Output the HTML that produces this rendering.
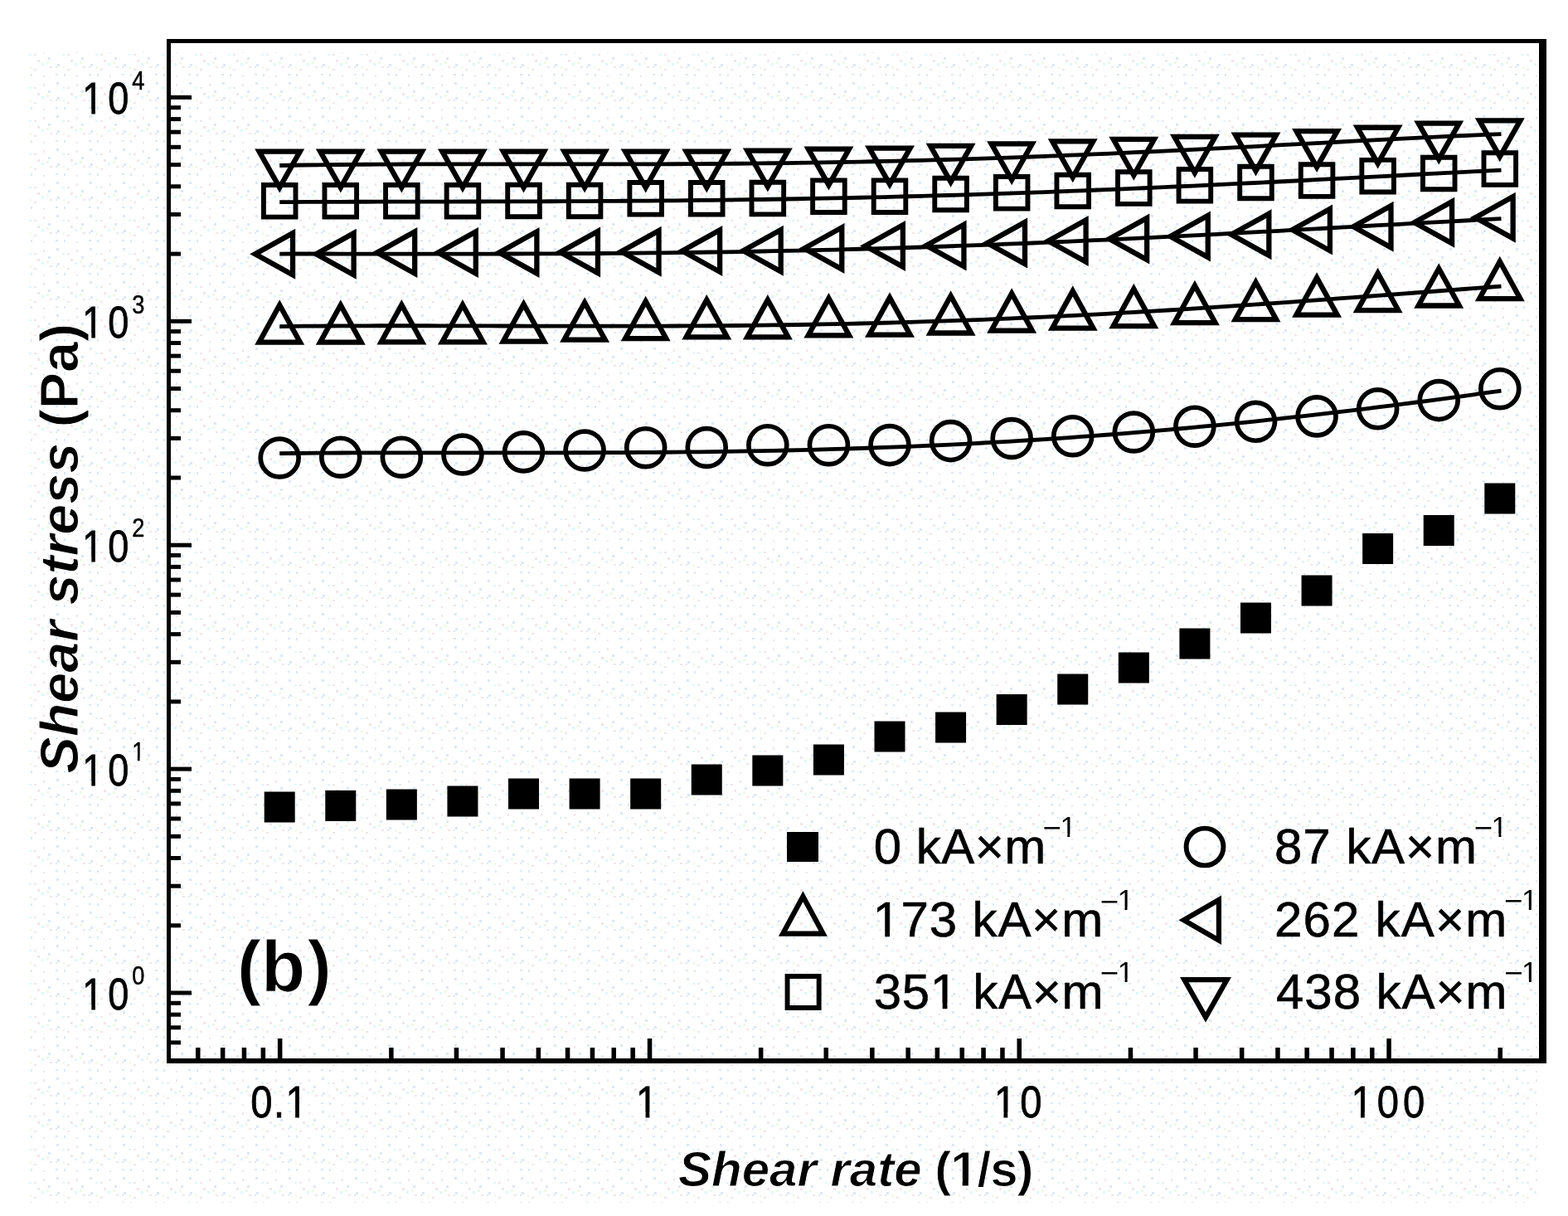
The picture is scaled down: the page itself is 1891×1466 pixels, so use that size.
<!DOCTYPE html>
<html><head><meta charset="utf-8"><title>Shear stress vs shear rate</title>
<style>html,body{margin:0;padding:0;background:#fff;overflow:hidden;} svg{display:block;}</style></head>
<body><svg width="1891" height="1466" viewBox="0 0 1891 1466">
<rect width="1891" height="1466" fill="#fff"/>
<defs><pattern id="dots" x="0" y="0" width="40" height="40" patternUnits="userSpaceOnUse"><rect x="1" y="3" width="3" height="2" fill="#f1e6e8"/><rect x="20" y="0" width="3" height="2" fill="#f1e6e8"/><rect x="27" y="0" width="2" height="2" fill="#dde8f4"/><rect x="36" y="0" width="2" height="3" fill="#eef9e6"/><rect x="12" y="11" width="2" height="2" fill="#f1e6e8"/><rect x="27" y="9" width="3" height="2" fill="#dde8f4"/><rect x="37" y="9" width="2" height="3" fill="#dde8f4"/><rect x="12" y="21" width="2" height="3" fill="#f1e6e8"/><rect x="28" y="19" width="3" height="3" fill="#dde8f4"/><rect x="1" y="25" width="3" height="2" fill="#f1e6e8"/><rect x="18" y="29" width="3" height="3" fill="#dde8f4"/><rect x="35" y="25" width="3" height="2" fill="#def7fb"/><rect x="5" y="32" width="3" height="3" fill="#f1e6e8"/><rect x="10" y="36" width="3" height="3" fill="#def7fb"/><rect x="16" y="34" width="3" height="3" fill="#eef9e6"/><rect x="29" y="37" width="3" height="3" fill="#dde8f4"/></pattern></defs>
<rect x="34" y="63" width="1822" height="1387" fill="url(#dots)"/>
<g fill="#000">
<rect x="201" y="47" width="5" height="1235"/>
<rect x="201" y="47" width="1664" height="5"/>
<rect x="1856" y="47" width="9" height="1235"/>
<rect x="201" y="1276" width="1664" height="6"/>
<rect x="206" y="1194.5" width="25" height="5"/>
<rect x="206" y="924.6" width="25" height="5"/>
<rect x="206" y="654.7" width="25" height="5"/>
<rect x="206" y="384.8" width="25" height="5"/>
<rect x="206" y="114.9" width="25" height="5"/>
<rect x="206" y="1254.4" width="12" height="5"/>
<rect x="206" y="1236.3" width="12" height="5"/>
<rect x="206" y="1220.7" width="12" height="5"/>
<rect x="206" y="1206.8" width="12" height="5"/>
<rect x="206" y="1113.3" width="12" height="5"/>
<rect x="206" y="1065.7" width="12" height="5"/>
<rect x="206" y="1032.0" width="12" height="5"/>
<rect x="206" y="1005.8" width="12" height="5"/>
<rect x="206" y="984.5" width="12" height="5"/>
<rect x="206" y="966.4" width="12" height="5"/>
<rect x="206" y="950.8" width="12" height="5"/>
<rect x="206" y="936.9" width="12" height="5"/>
<rect x="206" y="843.4" width="12" height="5"/>
<rect x="206" y="795.8" width="12" height="5"/>
<rect x="206" y="762.1" width="12" height="5"/>
<rect x="206" y="735.9" width="12" height="5"/>
<rect x="206" y="714.6" width="12" height="5"/>
<rect x="206" y="696.5" width="12" height="5"/>
<rect x="206" y="680.9" width="12" height="5"/>
<rect x="206" y="667.0" width="12" height="5"/>
<rect x="206" y="573.5" width="12" height="5"/>
<rect x="206" y="525.9" width="12" height="5"/>
<rect x="206" y="492.2" width="12" height="5"/>
<rect x="206" y="466.0" width="12" height="5"/>
<rect x="206" y="444.7" width="12" height="5"/>
<rect x="206" y="426.6" width="12" height="5"/>
<rect x="206" y="411.0" width="12" height="5"/>
<rect x="206" y="397.1" width="12" height="5"/>
<rect x="206" y="303.6" width="12" height="5"/>
<rect x="206" y="256.0" width="12" height="5"/>
<rect x="206" y="222.3" width="12" height="5"/>
<rect x="206" y="196.1" width="12" height="5"/>
<rect x="206" y="174.8" width="12" height="5"/>
<rect x="206" y="156.7" width="12" height="5"/>
<rect x="206" y="141.1" width="12" height="5"/>
<rect x="206" y="127.2" width="12" height="5"/>
<rect x="334.9" y="1252" width="5.5" height="24"/>
<rect x="780.8" y="1252" width="5.5" height="24"/>
<rect x="1226.5" y="1252" width="5.5" height="24"/>
<rect x="1672.3" y="1252" width="5.5" height="24"/>
<rect x="236.0" y="1263" width="5.5" height="13"/>
<rect x="265.9" y="1263" width="5.5" height="13"/>
<rect x="291.7" y="1263" width="5.5" height="13"/>
<rect x="314.6" y="1263" width="5.5" height="13"/>
<rect x="469.1" y="1263" width="5.5" height="13"/>
<rect x="547.7" y="1263" width="5.5" height="13"/>
<rect x="603.3" y="1263" width="5.5" height="13"/>
<rect x="646.6" y="1263" width="5.5" height="13"/>
<rect x="681.8" y="1263" width="5.5" height="13"/>
<rect x="711.7" y="1263" width="5.5" height="13"/>
<rect x="737.5" y="1263" width="5.5" height="13"/>
<rect x="760.4" y="1263" width="5.5" height="13"/>
<rect x="914.9" y="1263" width="5.5" height="13"/>
<rect x="993.5" y="1263" width="5.5" height="13"/>
<rect x="1049.1" y="1263" width="5.5" height="13"/>
<rect x="1092.4" y="1263" width="5.5" height="13"/>
<rect x="1127.6" y="1263" width="5.5" height="13"/>
<rect x="1157.5" y="1263" width="5.5" height="13"/>
<rect x="1183.3" y="1263" width="5.5" height="13"/>
<rect x="1206.2" y="1263" width="5.5" height="13"/>
<rect x="1360.7" y="1263" width="5.5" height="13"/>
<rect x="1439.3" y="1263" width="5.5" height="13"/>
<rect x="1494.9" y="1263" width="5.5" height="13"/>
<rect x="1538.2" y="1263" width="5.5" height="13"/>
<rect x="1573.4" y="1263" width="5.5" height="13"/>
<rect x="1603.3" y="1263" width="5.5" height="13"/>
<rect x="1629.1" y="1263" width="5.5" height="13"/>
<rect x="1652.0" y="1263" width="5.5" height="13"/>
<rect x="1806.5" y="1263" width="5.5" height="13"/>
</g>
<path d="M337.2,546.65 L352.1,546.48 L367.0,546.34 L381.8,546.21 L396.7,546.11 L411.6,546.02 L426.5,545.95 L441.4,545.89 L456.3,545.85 L471.1,545.82 L486.0,545.80 L500.9,545.79 L515.8,545.78 L530.7,545.78 L545.5,545.79 L560.4,545.79 L575.3,545.80 L590.2,545.81 L605.1,545.82 L620.0,545.82 L634.8,545.82 L649.7,545.82 L664.6,545.81 L679.5,545.79 L694.4,545.77 L709.2,545.73 L724.1,545.68 L739.0,545.63 L753.9,545.55 L768.8,545.47 L783.7,545.37 L798.5,545.25 L813.4,545.12 L828.3,544.97 L843.2,544.80 L858.1,544.61 L872.9,544.40 L887.8,544.17 L902.7,543.91 L917.6,543.64 L932.5,543.33 L947.4,543.01 L962.2,542.66 L977.1,542.28 L992.0,541.88 L1006.9,541.45 L1021.8,541.00 L1036.6,540.51 L1051.5,540.00 L1066.4,539.46 L1081.3,538.88 L1096.2,538.28 L1111.1,537.65 L1125.9,536.98 L1140.8,536.29 L1155.7,535.56 L1170.6,534.80 L1185.5,534.00 L1200.3,533.18 L1215.2,532.32 L1230.1,531.43 L1245.0,530.50 L1259.9,529.54 L1274.8,528.55 L1289.6,527.52 L1304.5,526.46 L1319.4,525.37 L1334.3,524.24 L1349.2,523.08 L1364.0,521.88 L1378.9,520.65 L1393.8,519.38 L1408.7,518.08 L1423.6,516.74 L1438.5,515.38 L1453.3,513.97 L1468.2,512.54 L1483.1,511.07 L1498.0,509.57 L1512.9,508.03 L1527.7,506.47 L1542.6,504.87 L1557.5,503.23 L1572.4,501.57 L1587.3,499.88 L1602.2,498.15 L1617.0,496.39 L1631.9,494.61 L1646.8,492.79 L1661.7,490.95 L1676.6,489.08 L1691.4,487.18 L1706.3,485.25 L1721.2,483.29 L1736.1,481.31 L1751.0,479.31 L1765.9,477.28 L1780.7,475.22 L1795.6,473.15 L1810.5,471.05" fill="none" stroke="#000" stroke-width="4.8"/>
<path d="M337.2,393.55 L352.1,393.37 L367.0,393.22 L381.8,393.10 L396.7,393.00 L411.6,392.91 L426.5,392.85 L441.4,392.80 L456.3,392.77 L471.1,392.76 L486.0,392.75 L500.9,392.76 L515.8,392.77 L530.7,392.80 L545.5,392.83 L560.4,392.86 L575.3,392.90 L590.2,392.94 L605.1,392.98 L620.0,393.02 L634.8,393.06 L649.7,393.10 L664.6,393.13 L679.5,393.16 L694.4,393.18 L709.2,393.20 L724.1,393.20 L739.0,393.20 L753.9,393.19 L768.8,393.17 L783.7,393.13 L798.5,393.08 L813.4,393.02 L828.3,392.94 L843.2,392.85 L858.1,392.74 L872.9,392.62 L887.8,392.48 L902.7,392.32 L917.6,392.14 L932.5,391.94 L947.4,391.73 L962.2,391.49 L977.1,391.23 L992.0,390.95 L1006.9,390.66 L1021.8,390.33 L1036.6,389.99 L1051.5,389.62 L1066.4,389.24 L1081.3,388.83 L1096.2,388.39 L1111.1,387.93 L1125.9,387.45 L1140.8,386.95 L1155.7,386.42 L1170.6,385.87 L1185.5,385.30 L1200.3,384.70 L1215.2,384.08 L1230.1,383.43 L1245.0,382.77 L1259.9,382.08 L1274.8,381.36 L1289.6,380.63 L1304.5,379.87 L1319.4,379.09 L1334.3,378.29 L1349.2,377.47 L1364.0,376.63 L1378.9,375.76 L1393.8,374.88 L1408.7,373.98 L1423.6,373.06 L1438.5,372.12 L1453.3,371.16 L1468.2,370.19 L1483.1,369.20 L1498.0,368.20 L1512.9,367.18 L1527.7,366.15 L1542.6,365.10 L1557.5,364.04 L1572.4,362.97 L1587.3,361.89 L1602.2,360.80 L1617.0,359.70 L1631.9,358.60 L1646.8,357.49 L1661.7,356.37 L1676.6,355.25 L1691.4,354.12 L1706.3,352.99 L1721.2,351.87 L1736.1,350.74 L1751.0,349.62 L1765.9,348.49 L1780.7,347.38 L1795.6,346.26 L1810.5,345.16" fill="none" stroke="#000" stroke-width="4.8"/>
<path d="M337.2,306.03 L352.1,306.02 L367.0,306.02 L381.8,306.02 L396.7,306.02 L411.6,306.03 L426.5,306.04 L441.4,306.05 L456.3,306.06 L471.1,306.07 L486.0,306.08 L500.9,306.08 L515.8,306.09 L530.7,306.09 L545.5,306.08 L560.4,306.08 L575.3,306.06 L590.2,306.04 L605.1,306.01 L620.0,305.98 L634.8,305.94 L649.7,305.89 L664.6,305.83 L679.5,305.76 L694.4,305.68 L709.2,305.59 L724.1,305.49 L739.0,305.38 L753.9,305.25 L768.8,305.12 L783.7,304.97 L798.5,304.81 L813.4,304.63 L828.3,304.44 L843.2,304.24 L858.1,304.02 L872.9,303.79 L887.8,303.55 L902.7,303.29 L917.6,303.01 L932.5,302.72 L947.4,302.41 L962.2,302.09 L977.1,301.75 L992.0,301.40 L1006.9,301.03 L1021.8,300.65 L1036.6,300.24 L1051.5,299.83 L1066.4,299.40 L1081.3,298.95 L1096.2,298.48 L1111.1,298.00 L1125.9,297.51 L1140.8,297.00 L1155.7,296.47 L1170.6,295.93 L1185.5,295.37 L1200.3,294.80 L1215.2,294.21 L1230.1,293.61 L1245.0,293.00 L1259.9,292.37 L1274.8,291.73 L1289.6,291.07 L1304.5,290.40 L1319.4,289.72 L1334.3,289.03 L1349.2,288.32 L1364.0,287.60 L1378.9,286.88 L1393.8,286.14 L1408.7,285.39 L1423.6,284.63 L1438.5,283.86 L1453.3,283.09 L1468.2,282.30 L1483.1,281.51 L1498.0,280.71 L1512.9,279.91 L1527.7,279.10 L1542.6,278.29 L1557.5,277.47 L1572.4,276.65 L1587.3,275.82 L1602.2,274.99 L1617.0,274.17 L1631.9,273.34 L1646.8,272.51 L1661.7,271.68 L1676.6,270.86 L1691.4,270.03 L1706.3,269.21 L1721.2,268.40 L1736.1,267.59 L1751.0,266.79 L1765.9,265.99 L1780.7,265.21 L1795.6,264.43 L1810.5,263.66" fill="none" stroke="#000" stroke-width="4.8"/>
<path d="M337.2,243.61 L352.1,243.53 L367.0,243.46 L381.8,243.40 L396.7,243.35 L411.6,243.30 L426.5,243.26 L441.4,243.23 L456.3,243.19 L471.1,243.17 L486.0,243.14 L500.9,243.11 L515.8,243.09 L530.7,243.07 L545.5,243.04 L560.4,243.02 L575.3,242.99 L590.2,242.96 L605.1,242.92 L620.0,242.88 L634.8,242.84 L649.7,242.79 L664.6,242.74 L679.5,242.68 L694.4,242.62 L709.2,242.54 L724.1,242.46 L739.0,242.37 L753.9,242.27 L768.8,242.16 L783.7,242.04 L798.5,241.92 L813.4,241.78 L828.3,241.63 L843.2,241.47 L858.1,241.30 L872.9,241.11 L887.8,240.92 L902.7,240.71 L917.6,240.49 L932.5,240.25 L947.4,240.01 L962.2,239.74 L977.1,239.47 L992.0,239.18 L1006.9,238.88 L1021.8,238.56 L1036.6,238.23 L1051.5,237.89 L1066.4,237.53 L1081.3,237.16 L1096.2,236.77 L1111.1,236.37 L1125.9,235.95 L1140.8,235.52 L1155.7,235.08 L1170.6,234.62 L1185.5,234.14 L1200.3,233.66 L1215.2,233.15 L1230.1,232.64 L1245.0,232.11 L1259.9,231.56 L1274.8,231.01 L1289.6,230.44 L1304.5,229.85 L1319.4,229.26 L1334.3,228.65 L1349.2,228.03 L1364.0,227.40 L1378.9,226.75 L1393.8,226.10 L1408.7,225.43 L1423.6,224.75 L1438.5,224.06 L1453.3,223.37 L1468.2,222.66 L1483.1,221.94 L1498.0,221.22 L1512.9,220.49 L1527.7,219.75 L1542.6,219.00 L1557.5,218.24 L1572.4,217.48 L1587.3,216.72 L1602.2,215.95 L1617.0,215.18 L1631.9,214.40 L1646.8,213.62 L1661.7,212.83 L1676.6,212.05 L1691.4,211.26 L1706.3,210.48 L1721.2,209.69 L1736.1,208.91 L1751.0,208.13 L1765.9,207.35 L1780.7,206.57 L1795.6,205.80 L1810.5,205.04" fill="none" stroke="#000" stroke-width="4.8"/>
<path d="M337.2,199.51 L352.1,199.25 L367.0,199.02 L381.8,198.82 L396.7,198.64 L411.6,198.49 L426.5,198.36 L441.4,198.25 L456.3,198.16 L471.1,198.08 L486.0,198.02 L500.9,197.97 L515.8,197.94 L530.7,197.92 L545.5,197.90 L560.4,197.89 L575.3,197.89 L590.2,197.90 L605.1,197.90 L620.0,197.91 L634.8,197.92 L649.7,197.93 L664.6,197.94 L679.5,197.95 L694.4,197.95 L709.2,197.95 L724.1,197.94 L739.0,197.93 L753.9,197.91 L768.8,197.88 L783.7,197.84 L798.5,197.79 L813.4,197.73 L828.3,197.66 L843.2,197.57 L858.1,197.48 L872.9,197.37 L887.8,197.24 L902.7,197.10 L917.6,196.94 L932.5,196.77 L947.4,196.58 L962.2,196.38 L977.1,196.15 L992.0,195.91 L1006.9,195.65 L1021.8,195.38 L1036.6,195.08 L1051.5,194.77 L1066.4,194.44 L1081.3,194.09 L1096.2,193.72 L1111.1,193.33 L1125.9,192.92 L1140.8,192.49 L1155.7,192.05 L1170.6,191.58 L1185.5,191.10 L1200.3,190.60 L1215.2,190.08 L1230.1,189.54 L1245.0,188.99 L1259.9,188.41 L1274.8,187.82 L1289.6,187.22 L1304.5,186.60 L1319.4,185.96 L1334.3,185.30 L1349.2,184.64 L1364.0,183.96 L1378.9,183.26 L1393.8,182.55 L1408.7,181.83 L1423.6,181.10 L1438.5,180.36 L1453.3,179.61 L1468.2,178.85 L1483.1,178.09 L1498.0,177.31 L1512.9,176.53 L1527.7,175.75 L1542.6,174.96 L1557.5,174.17 L1572.4,173.38 L1587.3,172.59 L1602.2,171.79 L1617.0,171.00 L1631.9,170.22 L1646.8,169.43 L1661.7,168.66 L1676.6,167.89 L1691.4,167.13 L1706.3,166.38 L1721.2,165.64 L1736.1,164.91 L1751.0,164.20 L1765.9,163.51 L1780.7,162.83 L1795.6,162.18 L1810.5,161.54" fill="none" stroke="#000" stroke-width="4.8"/>
<g fill="#000"><rect x="318.70" y="954.50" width="37" height="37"/><rect x="392.28" y="952.90" width="37" height="37"/><rect x="465.86" y="951.50" width="37" height="37"/><rect x="539.44" y="947.50" width="37" height="37"/><rect x="613.02" y="938.50" width="37" height="37"/><rect x="686.60" y="938.50" width="37" height="37"/><rect x="760.18" y="938.50" width="37" height="37"/><rect x="833.76" y="921.50" width="37" height="37"/><rect x="907.34" y="910.50" width="37" height="37"/><rect x="980.92" y="897.50" width="37" height="37"/><rect x="1054.50" y="869.50" width="37" height="37"/><rect x="1128.08" y="858.50" width="37" height="37"/><rect x="1201.66" y="837.00" width="37" height="37"/><rect x="1275.24" y="812.50" width="37" height="37"/><rect x="1348.82" y="786.50" width="37" height="37"/><rect x="1422.40" y="757.50" width="37" height="37"/><rect x="1495.98" y="726.50" width="37" height="37"/><rect x="1569.56" y="693.50" width="37" height="37"/><rect x="1643.14" y="643.00" width="37" height="37"/><rect x="1716.72" y="621.00" width="37" height="37"/><rect x="1790.30" y="582.50" width="37" height="37"/><circle cx="337.20" cy="552.00" r="22.95" fill="none" stroke="#000" stroke-width="5.7"/><circle cx="410.78" cy="551.20" r="22.95" fill="none" stroke="#000" stroke-width="5.7"/><circle cx="484.36" cy="551.20" r="22.95" fill="none" stroke="#000" stroke-width="5.7"/><circle cx="557.94" cy="548.00" r="22.95" fill="none" stroke="#000" stroke-width="5.7"/><circle cx="631.52" cy="544.90" r="22.95" fill="none" stroke="#000" stroke-width="5.7"/><circle cx="705.10" cy="543.00" r="22.95" fill="none" stroke="#000" stroke-width="5.7"/><circle cx="778.68" cy="539.70" r="22.95" fill="none" stroke="#000" stroke-width="5.7"/><circle cx="852.26" cy="539.50" r="22.95" fill="none" stroke="#000" stroke-width="5.7"/><circle cx="925.84" cy="536.70" r="22.95" fill="none" stroke="#000" stroke-width="5.7"/><circle cx="999.42" cy="536.70" r="22.95" fill="none" stroke="#000" stroke-width="5.7"/><circle cx="1073.00" cy="536.60" r="22.95" fill="none" stroke="#000" stroke-width="5.7"/><circle cx="1146.58" cy="531.60" r="22.95" fill="none" stroke="#000" stroke-width="5.7"/><circle cx="1220.16" cy="528.50" r="22.95" fill="none" stroke="#000" stroke-width="5.7"/><circle cx="1293.74" cy="525.70" r="22.95" fill="none" stroke="#000" stroke-width="5.7"/><circle cx="1367.32" cy="521.00" r="22.95" fill="none" stroke="#000" stroke-width="5.7"/><circle cx="1440.90" cy="514.20" r="22.95" fill="none" stroke="#000" stroke-width="5.7"/><circle cx="1514.48" cy="508.30" r="22.95" fill="none" stroke="#000" stroke-width="5.7"/><circle cx="1588.06" cy="501.90" r="22.95" fill="none" stroke="#000" stroke-width="5.7"/><circle cx="1661.64" cy="492.80" r="22.95" fill="none" stroke="#000" stroke-width="5.7"/><circle cx="1735.22" cy="482.60" r="22.95" fill="none" stroke="#000" stroke-width="5.7"/><circle cx="1808.80" cy="468.70" r="22.95" fill="none" stroke="#000" stroke-width="5.7"/><path d="M337.20,361.25 L367.20,415.75 L307.20,415.75 Z M317.86,409.45 L356.54,409.45 L337.20,374.31 Z" fill-rule="evenodd"/><path d="M410.78,361.25 L440.78,415.75 L380.78,415.75 Z M391.44,409.45 L430.12,409.45 L410.78,374.31 Z" fill-rule="evenodd"/><path d="M484.36,361.05 L514.36,415.55 L454.36,415.55 Z M465.02,409.25 L503.70,409.25 L484.36,374.11 Z" fill-rule="evenodd"/><path d="M557.94,361.05 L587.94,415.55 L527.94,415.55 Z M538.60,409.25 L577.28,409.25 L557.94,374.11 Z" fill-rule="evenodd"/><path d="M631.52,360.25 L661.52,414.75 L601.52,414.75 Z M612.18,408.45 L650.86,408.45 L631.52,373.31 Z" fill-rule="evenodd"/><path d="M705.10,358.25 L735.10,412.75 L675.10,412.75 Z M685.76,406.45 L724.44,406.45 L705.10,371.31 Z" fill-rule="evenodd"/><path d="M778.68,356.75 L808.68,411.25 L748.68,411.25 Z M759.34,404.95 L798.02,404.95 L778.68,369.81 Z" fill-rule="evenodd"/><path d="M852.26,355.05 L882.26,409.55 L822.26,409.55 Z M832.92,403.25 L871.60,403.25 L852.26,368.11 Z" fill-rule="evenodd"/><path d="M925.84,355.05 L955.84,409.55 L895.84,409.55 Z M906.50,403.25 L945.18,403.25 L925.84,368.11 Z" fill-rule="evenodd"/><path d="M999.42,352.95 L1029.42,407.45 L969.42,407.45 Z M980.08,401.15 L1018.76,401.15 L999.42,366.01 Z" fill-rule="evenodd"/><path d="M1073.00,352.35 L1103.00,406.85 L1043.00,406.85 Z M1053.66,400.55 L1092.34,400.55 L1073.00,365.41 Z" fill-rule="evenodd"/><path d="M1146.58,350.15 L1176.58,404.65 L1116.58,404.65 Z M1127.24,398.35 L1165.92,398.35 L1146.58,363.21 Z" fill-rule="evenodd"/><path d="M1220.16,347.25 L1250.16,401.75 L1190.16,401.75 Z M1200.82,395.45 L1239.50,395.45 L1220.16,360.31 Z" fill-rule="evenodd"/><path d="M1293.74,344.35 L1323.74,398.85 L1263.74,398.85 Z M1274.40,392.55 L1313.08,392.55 L1293.74,357.41 Z" fill-rule="evenodd"/><path d="M1367.32,341.75 L1397.32,396.25 L1337.32,396.25 Z M1347.98,389.95 L1386.66,389.95 L1367.32,354.81 Z" fill-rule="evenodd"/><path d="M1440.90,337.75 L1470.90,392.25 L1410.90,392.25 Z M1421.56,385.95 L1460.24,385.95 L1440.90,350.81 Z" fill-rule="evenodd"/><path d="M1514.48,333.75 L1544.48,388.25 L1484.48,388.25 Z M1495.14,381.95 L1533.82,381.95 L1514.48,346.81 Z" fill-rule="evenodd"/><path d="M1588.06,328.35 L1618.06,382.85 L1558.06,382.85 Z M1568.72,376.55 L1607.40,376.55 L1588.06,341.41 Z" fill-rule="evenodd"/><path d="M1661.64,322.75 L1691.64,377.25 L1631.64,377.25 Z M1642.30,370.95 L1680.98,370.95 L1661.64,335.81 Z" fill-rule="evenodd"/><path d="M1735.22,317.15 L1765.22,371.65 L1705.22,371.65 Z M1715.88,365.35 L1754.56,365.35 L1735.22,330.21 Z" fill-rule="evenodd"/><path d="M1808.80,308.75 L1838.80,363.25 L1778.80,363.25 Z M1789.46,356.95 L1828.14,356.95 L1808.80,321.81 Z" fill-rule="evenodd"/><path d="M301.20,306.30 L356.20,275.80 L356.20,336.80 Z M349.90,326.10 L349.90,286.50 L314.19,306.30 Z" fill-rule="evenodd"/><path d="M374.78,306.30 L429.78,275.80 L429.78,336.80 Z M423.48,326.10 L423.48,286.50 L387.77,306.30 Z" fill-rule="evenodd"/><path d="M448.36,304.60 L503.36,274.10 L503.36,335.10 Z M497.06,324.40 L497.06,284.80 L461.35,304.60 Z" fill-rule="evenodd"/><path d="M521.94,304.60 L576.94,274.10 L576.94,335.10 Z M570.64,324.40 L570.64,284.80 L534.93,304.60 Z" fill-rule="evenodd"/><path d="M595.52,304.40 L650.52,273.90 L650.52,334.90 Z M644.22,324.20 L644.22,284.60 L608.51,304.40 Z" fill-rule="evenodd"/><path d="M669.10,304.00 L724.10,273.50 L724.10,334.50 Z M717.80,323.80 L717.80,284.20 L682.09,304.00 Z" fill-rule="evenodd"/><path d="M742.68,303.20 L797.68,272.70 L797.68,333.70 Z M791.38,323.00 L791.38,283.40 L755.67,303.20 Z" fill-rule="evenodd"/><path d="M816.26,302.60 L871.26,272.10 L871.26,333.10 Z M864.96,322.40 L864.96,282.80 L829.25,302.60 Z" fill-rule="evenodd"/><path d="M889.84,302.30 L944.84,271.80 L944.84,332.80 Z M938.54,322.10 L938.54,282.50 L902.83,302.30 Z" fill-rule="evenodd"/><path d="M963.42,299.40 L1018.42,268.90 L1018.42,329.90 Z M1012.12,319.20 L1012.12,279.60 L976.41,299.40 Z" fill-rule="evenodd"/><path d="M1037.00,296.40 L1092.00,265.90 L1092.00,326.90 Z M1085.70,316.20 L1085.70,276.60 L1049.99,296.40 Z" fill-rule="evenodd"/><path d="M1110.58,295.90 L1165.58,265.40 L1165.58,326.40 Z M1159.28,315.70 L1159.28,276.10 L1123.57,295.90 Z" fill-rule="evenodd"/><path d="M1184.16,293.00 L1239.16,262.50 L1239.16,323.50 Z M1232.86,312.80 L1232.86,273.20 L1197.15,293.00 Z" fill-rule="evenodd"/><path d="M1257.74,290.50 L1312.74,260.00 L1312.74,321.00 Z M1306.44,310.30 L1306.44,270.70 L1270.73,290.50 Z" fill-rule="evenodd"/><path d="M1331.32,288.00 L1386.32,257.50 L1386.32,318.50 Z M1380.02,307.80 L1380.02,268.20 L1344.31,288.00 Z" fill-rule="evenodd"/><path d="M1404.90,285.00 L1459.90,254.50 L1459.90,315.50 Z M1453.60,304.80 L1453.60,265.20 L1417.89,285.00 Z" fill-rule="evenodd"/><path d="M1478.48,282.80 L1533.48,252.30 L1533.48,313.30 Z M1527.18,302.60 L1527.18,263.00 L1491.47,282.80 Z" fill-rule="evenodd"/><path d="M1552.06,277.10 L1607.06,246.60 L1607.06,307.60 Z M1600.76,296.90 L1600.76,257.30 L1565.05,277.10 Z" fill-rule="evenodd"/><path d="M1625.64,273.30 L1680.64,242.80 L1680.64,303.80 Z M1674.34,293.10 L1674.34,253.50 L1638.63,273.30 Z" fill-rule="evenodd"/><path d="M1699.22,268.20 L1754.22,237.70 L1754.22,298.70 Z M1747.92,288.00 L1747.92,248.40 L1712.21,268.20 Z" fill-rule="evenodd"/><path d="M1772.80,262.30 L1827.80,231.80 L1827.80,292.80 Z M1821.50,282.10 L1821.50,242.50 L1785.79,262.30 Z" fill-rule="evenodd"/><path d="M314.95,220.05 h44.50 v44.50 h-44.50 Z M320.85,225.95 v32.70 h32.70 v-32.70 Z" fill-rule="evenodd"/><path d="M388.53,220.05 h44.50 v44.50 h-44.50 Z M394.43,225.95 v32.70 h32.70 v-32.70 Z" fill-rule="evenodd"/><path d="M462.11,220.05 h44.50 v44.50 h-44.50 Z M468.01,225.95 v32.70 h32.70 v-32.70 Z" fill-rule="evenodd"/><path d="M535.69,220.05 h44.50 v44.50 h-44.50 Z M541.59,225.95 v32.70 h32.70 v-32.70 Z" fill-rule="evenodd"/><path d="M609.27,219.75 h44.50 v44.50 h-44.50 Z M615.17,225.65 v32.70 h32.70 v-32.70 Z" fill-rule="evenodd"/><path d="M682.85,219.75 h44.50 v44.50 h-44.50 Z M688.75,225.65 v32.70 h32.70 v-32.70 Z" fill-rule="evenodd"/><path d="M756.43,217.05 h44.50 v44.50 h-44.50 Z M762.33,222.95 v32.70 h32.70 v-32.70 Z" fill-rule="evenodd"/><path d="M830.01,217.05 h44.50 v44.50 h-44.50 Z M835.91,222.95 v32.70 h32.70 v-32.70 Z" fill-rule="evenodd"/><path d="M903.59,216.85 h44.50 v44.50 h-44.50 Z M909.49,222.75 v32.70 h32.70 v-32.70 Z" fill-rule="evenodd"/><path d="M977.17,214.45 h44.50 v44.50 h-44.50 Z M983.07,220.35 v32.70 h32.70 v-32.70 Z" fill-rule="evenodd"/><path d="M1050.75,214.45 h44.50 v44.50 h-44.50 Z M1056.65,220.35 v32.70 h32.70 v-32.70 Z" fill-rule="evenodd"/><path d="M1124.33,211.75 h44.50 v44.50 h-44.50 Z M1130.23,217.65 v32.70 h32.70 v-32.70 Z" fill-rule="evenodd"/><path d="M1197.91,210.05 h44.50 v44.50 h-44.50 Z M1203.81,215.95 v32.70 h32.70 v-32.70 Z" fill-rule="evenodd"/><path d="M1271.49,207.75 h44.50 v44.50 h-44.50 Z M1277.39,213.65 v32.70 h32.70 v-32.70 Z" fill-rule="evenodd"/><path d="M1345.07,204.35 h44.50 v44.50 h-44.50 Z M1350.97,210.25 v32.70 h32.70 v-32.70 Z" fill-rule="evenodd"/><path d="M1418.65,201.05 h44.50 v44.50 h-44.50 Z M1424.55,206.95 v32.70 h32.70 v-32.70 Z" fill-rule="evenodd"/><path d="M1492.23,197.75 h44.50 v44.50 h-44.50 Z M1498.13,203.65 v32.70 h32.70 v-32.70 Z" fill-rule="evenodd"/><path d="M1565.81,195.35 h44.50 v44.50 h-44.50 Z M1571.71,201.25 v32.70 h32.70 v-32.70 Z" fill-rule="evenodd"/><path d="M1639.39,189.95 h44.50 v44.50 h-44.50 Z M1645.29,195.85 v32.70 h32.70 v-32.70 Z" fill-rule="evenodd"/><path d="M1712.97,186.75 h44.50 v44.50 h-44.50 Z M1718.87,192.65 v32.70 h32.70 v-32.70 Z" fill-rule="evenodd"/><path d="M1786.55,181.35 h44.50 v44.50 h-44.50 Z M1792.45,187.25 v32.70 h32.70 v-32.70 Z" fill-rule="evenodd"/><path d="M337.20,232.50 L367.20,179.50 L307.20,179.50 Z M318.01,185.80 L356.39,185.80 L337.20,219.71 Z" fill-rule="evenodd"/><path d="M410.78,232.50 L440.78,179.50 L380.78,179.50 Z M391.59,185.80 L429.97,185.80 L410.78,219.71 Z" fill-rule="evenodd"/><path d="M484.36,232.50 L514.36,179.50 L454.36,179.50 Z M465.17,185.80 L503.55,185.80 L484.36,219.71 Z" fill-rule="evenodd"/><path d="M557.94,232.50 L587.94,179.50 L527.94,179.50 Z M538.75,185.80 L577.13,185.80 L557.94,219.71 Z" fill-rule="evenodd"/><path d="M631.52,232.50 L661.52,179.50 L601.52,179.50 Z M612.33,185.80 L650.71,185.80 L631.52,219.71 Z" fill-rule="evenodd"/><path d="M705.10,232.50 L735.10,179.50 L675.10,179.50 Z M685.91,185.80 L724.29,185.80 L705.10,219.71 Z" fill-rule="evenodd"/><path d="M778.68,232.50 L808.68,179.50 L748.68,179.50 Z M759.49,185.80 L797.87,185.80 L778.68,219.71 Z" fill-rule="evenodd"/><path d="M852.26,232.50 L882.26,179.50 L822.26,179.50 Z M833.07,185.80 L871.45,185.80 L852.26,219.71 Z" fill-rule="evenodd"/><path d="M925.84,231.50 L955.84,178.50 L895.84,178.50 Z M906.65,184.80 L945.03,184.80 L925.84,218.71 Z" fill-rule="evenodd"/><path d="M999.42,229.50 L1029.42,176.50 L969.42,176.50 Z M980.23,182.80 L1018.61,182.80 L999.42,216.71 Z" fill-rule="evenodd"/><path d="M1073.00,228.50 L1103.00,175.50 L1043.00,175.50 Z M1053.81,181.80 L1092.19,181.80 L1073.00,215.71 Z" fill-rule="evenodd"/><path d="M1146.58,225.80 L1176.58,172.80 L1116.58,172.80 Z M1127.39,179.10 L1165.77,179.10 L1146.58,213.01 Z" fill-rule="evenodd"/><path d="M1220.16,223.30 L1250.16,170.30 L1190.16,170.30 Z M1200.97,176.60 L1239.35,176.60 L1220.16,210.51 Z" fill-rule="evenodd"/><path d="M1293.74,220.30 L1323.74,167.30 L1263.74,167.30 Z M1274.55,173.60 L1312.93,173.60 L1293.74,207.51 Z" fill-rule="evenodd"/><path d="M1367.32,217.70 L1397.32,164.70 L1337.32,164.70 Z M1348.13,171.00 L1386.51,171.00 L1367.32,204.91 Z" fill-rule="evenodd"/><path d="M1440.90,214.80 L1470.90,161.80 L1410.90,161.80 Z M1421.71,168.10 L1460.09,168.10 L1440.90,202.01 Z" fill-rule="evenodd"/><path d="M1514.48,212.50 L1544.48,159.50 L1484.48,159.50 Z M1495.29,165.80 L1533.67,165.80 L1514.48,199.71 Z" fill-rule="evenodd"/><path d="M1588.06,207.90 L1618.06,154.90 L1558.06,154.90 Z M1568.87,161.20 L1607.25,161.20 L1588.06,195.11 Z" fill-rule="evenodd"/><path d="M1661.64,203.60 L1691.64,150.60 L1631.64,150.60 Z M1642.45,156.90 L1680.83,156.90 L1661.64,190.81 Z" fill-rule="evenodd"/><path d="M1735.22,198.40 L1765.22,145.40 L1705.22,145.40 Z M1716.03,151.70 L1754.41,151.70 L1735.22,185.61 Z" fill-rule="evenodd"/><path d="M1808.80,195.30 L1838.80,142.30 L1778.80,142.30 Z M1789.61,148.60 L1827.99,148.60 L1808.80,182.51 Z" fill-rule="evenodd"/></g>
<g fill="#000"><rect x="949" y="1003" width="38" height="36"/><path d="M968.40,1074.15 L997.90,1128.65 L938.90,1128.65 Z M949.31,1122.45 L987.49,1122.45 L968.40,1087.17 Z" fill-rule="evenodd"/><path d="M946.60,1174.00 h44.00 v44.00 h-44.00 Z M952.50,1179.90 v32.20 h32.20 v-32.20 Z" fill-rule="evenodd"/><circle cx="1453" cy="1021" r="22.4" fill="none" stroke="#000" stroke-width="5.9"/><path d="M1421.40,1109.20 L1473.00,1079.45 L1473.00,1138.95 Z M1466.80,1128.22 L1466.80,1090.18 L1433.81,1109.20 Z" fill-rule="evenodd"/><path d="M1454.00,1232.75 L1485.00,1178.05 L1423.00,1178.05 Z M1433.64,1184.25 L1474.36,1184.25 L1454.00,1220.18 Z" fill-rule="evenodd"/></g>
<text x="1053.7" y="1040.5" font-family="'Liberation Sans', Arial, sans-serif" font-size="60" letter-spacing="0.5" stroke="#000" stroke-width="0.6">0 kA×m<tspan font-size="35" dx="-4.5" dy="-30.5" letter-spacing="0" stroke-width="0" textLength="22.6" lengthAdjust="spacingAndGlyphs">−</tspan><tspan font-size="35" dx="-1.5" dy="-1.5" letter-spacing="0" stroke-width="0">1</tspan></text>
<text x="1052.4" y="1129.3" font-family="'Liberation Sans', Arial, sans-serif" font-size="60" letter-spacing="0.85" stroke="#000" stroke-width="0.6">173 kA×m<tspan font-size="35" dx="-4.5" dy="-30.5" letter-spacing="0" stroke-width="0" textLength="22.6" lengthAdjust="spacingAndGlyphs">−</tspan><tspan font-size="35" dx="-1.5" dy="-1.5" letter-spacing="0" stroke-width="0">1</tspan></text>
<text x="1053.7" y="1215.7" font-family="'Liberation Sans', Arial, sans-serif" font-size="60" letter-spacing="0.7" stroke="#000" stroke-width="0.6">351 kA×m<tspan font-size="35" dx="-4.5" dy="-30.5" letter-spacing="0" stroke-width="0" textLength="22.6" lengthAdjust="spacingAndGlyphs">−</tspan><tspan font-size="35" dx="-1.5" dy="-1.5" letter-spacing="0" stroke-width="0">1</tspan></text>
<text x="1536.9" y="1040.5" font-family="'Liberation Sans', Arial, sans-serif" font-size="60" letter-spacing="0.95" stroke="#000" stroke-width="0.6">87 kA×m<tspan font-size="35" dx="-4.5" dy="-30.5" letter-spacing="0" stroke-width="0" textLength="22.6" lengthAdjust="spacingAndGlyphs">−</tspan><tspan font-size="35" dx="-1.5" dy="-1.5" letter-spacing="0" stroke-width="0">1</tspan></text>
<text x="1536.9" y="1128.6" font-family="'Liberation Sans', Arial, sans-serif" font-size="60" letter-spacing="1.2" stroke="#000" stroke-width="0.6">262 kA×m<tspan font-size="35" dx="-4.5" dy="-30.5" letter-spacing="0" stroke-width="0" textLength="22.6" lengthAdjust="spacingAndGlyphs">−</tspan><tspan font-size="35" dx="-1.5" dy="-1.5" letter-spacing="0" stroke-width="0">1</tspan></text>
<text x="1539" y="1215.7" font-family="'Liberation Sans', Arial, sans-serif" font-size="60" letter-spacing="0.95" stroke="#000" stroke-width="0.6">438 kA×m<tspan font-size="35" dx="-4.5" dy="-30.5" letter-spacing="0" stroke-width="0" textLength="22.6" lengthAdjust="spacingAndGlyphs">−</tspan><tspan font-size="35" dx="-1.5" dy="-1.5" letter-spacing="0" stroke-width="0">1</tspan></text>
<text transform="translate(99.3 1216.7) scale(0.85 1)" font-family="'Liberation Sans', Arial, sans-serif" font-size="53" letter-spacing="7" stroke="#000" stroke-width="0.8">10<tspan font-size="32" dx="-2.5" dy="-29.5" stroke-width="0.5" letter-spacing="0">0</tspan></text>
<text transform="translate(99.3 946.8) scale(0.85 1)" font-family="'Liberation Sans', Arial, sans-serif" font-size="53" letter-spacing="7" stroke="#000" stroke-width="0.8">10<tspan font-size="32" dx="-2.5" dy="-29.5" stroke-width="0.5" letter-spacing="0">1</tspan></text>
<text transform="translate(99.3 676.9) scale(0.85 1)" font-family="'Liberation Sans', Arial, sans-serif" font-size="53" letter-spacing="7" stroke="#000" stroke-width="0.8">10<tspan font-size="32" dx="-2.5" dy="-29.5" stroke-width="0.5" letter-spacing="0">2</tspan></text>
<text transform="translate(99.3 407.0) scale(0.85 1)" font-family="'Liberation Sans', Arial, sans-serif" font-size="53" letter-spacing="7" stroke="#000" stroke-width="0.8">10<tspan font-size="32" dx="-2.5" dy="-29.5" stroke-width="0.5" letter-spacing="0">3</tspan></text>
<text transform="translate(99.3 137.1) scale(0.85 1)" font-family="'Liberation Sans', Arial, sans-serif" font-size="53" letter-spacing="7" stroke="#000" stroke-width="0.8">10<tspan font-size="32" dx="-2.5" dy="-29.5" stroke-width="0.5" letter-spacing="0">4</tspan></text>
<text transform="translate(302.2 1346.5) scale(0.89 1)" font-family="'Liberation Sans', Arial, sans-serif" font-size="53" letter-spacing="1.7" stroke="#000" stroke-width="0.8">0.1</text>
<text transform="translate(767 1346.5) scale(0.89 1)" font-family="'Liberation Sans', Arial, sans-serif" font-size="53" stroke="#000" stroke-width="0.8">1</text>
<text transform="translate(1198.9 1346.5) scale(0.89 1)" font-family="'Liberation Sans', Arial, sans-serif" font-size="53" letter-spacing="5.7" stroke="#000" stroke-width="0.8">10</text>
<text transform="translate(1629.4 1346.5) scale(0.89 1)" font-family="'Liberation Sans', Arial, sans-serif" font-size="53" letter-spacing="5.7" stroke="#000" stroke-width="0.8">100</text>
<g id="feet1" fill="#fff"><rect x="1280.14" y="1004.99" width="7.09" height="4.71"/><rect x="1290.22" y="1004.99" width="6.81" height="4.71"/><rect x="1055.77" y="1123.62" width="11.47" height="7.18"/><rect x="1073.04" y="1123.62" width="11.00" height="7.18"/><rect x="1349.39" y="1093.79" width="7.09" height="4.71"/><rect x="1359.47" y="1093.79" width="6.81" height="4.71"/><rect x="1125.20" y="1210.02" width="11.47" height="7.18"/><rect x="1142.47" y="1210.02" width="11.00" height="7.18"/><rect x="1349.49" y="1180.19" width="7.09" height="4.71"/><rect x="1359.57" y="1180.19" width="6.81" height="4.71"/><rect x="1800.38" y="1004.99" width="7.09" height="4.71"/><rect x="1810.45" y="1004.99" width="6.81" height="4.71"/><rect x="1836.69" y="1093.09" width="7.09" height="4.71"/><rect x="1846.77" y="1093.09" width="6.81" height="4.71"/><rect x="1836.79" y="1180.19" width="7.09" height="4.71"/><rect x="1846.87" y="1180.19" width="6.81" height="4.71"/><g transform="translate(99.3 1216.7) scale(0.85 1)"><rect x="2.74" y="-5.26" width="10.24" height="6.86"/><rect x="18.36" y="-5.26" width="9.83" height="6.86"/></g><g transform="translate(99.3 946.8) scale(0.85 1)"><rect x="2.74" y="-5.26" width="10.24" height="6.86"/><rect x="18.36" y="-5.26" width="9.83" height="6.86"/></g><g transform="translate(99.3 946.8) scale(0.85 1)"><rect x="71.72" y="-33.04" width="6.56" height="4.99"/><rect x="81.51" y="-33.04" width="6.31" height="4.99"/></g><g transform="translate(99.3 676.9) scale(0.85 1)"><rect x="2.74" y="-5.26" width="10.24" height="6.86"/><rect x="18.36" y="-5.26" width="9.83" height="6.86"/></g><g transform="translate(99.3 407.0) scale(0.85 1)"><rect x="2.74" y="-5.26" width="10.24" height="6.86"/><rect x="18.36" y="-5.26" width="9.83" height="6.86"/></g><g transform="translate(99.3 137.1) scale(0.85 1)"><rect x="2.74" y="-5.26" width="10.24" height="6.86"/><rect x="18.36" y="-5.26" width="9.83" height="6.86"/></g><g transform="translate(302.2 1346.5) scale(0.89 1)"><rect x="50.33" y="-5.26" width="10.24" height="6.86"/><rect x="65.95" y="-5.26" width="9.83" height="6.86"/></g><g transform="translate(767 1346.5) scale(0.89 1)"><rect x="2.74" y="-5.26" width="10.24" height="6.86"/><rect x="18.36" y="-5.26" width="9.83" height="6.86"/></g><g transform="translate(1198.9 1346.5) scale(0.89 1)"><rect x="2.74" y="-5.26" width="10.24" height="6.86"/><rect x="18.36" y="-5.26" width="9.83" height="6.86"/></g><g transform="translate(1629.4 1346.5) scale(0.89 1)"><rect x="2.74" y="-5.26" width="10.24" height="6.86"/><rect x="18.36" y="-5.26" width="9.83" height="6.86"/></g></g><!--/feet-->
<!--titles-->
<text x="818" y="1430" font-family="'Liberation Sans', Arial, sans-serif" font-size="60" font-weight="bold" stroke="#fff" stroke-width="1.0"><tspan font-style="italic">Shear rate</tspan><tspan letter-spacing="-1"> (1/s)</tspan></text>
<text transform="translate(94.3 932.6) rotate(-90) scale(1.038 1)" font-family="'Liberation Sans', Arial, sans-serif" font-size="64" font-weight="bold" stroke="#fff" stroke-width="1.0"><tspan font-style="italic">Shear stress</tspan> (Pa)</text>
<text x="286" y="1194.6" font-family="'Liberation Sans', Arial, sans-serif" font-size="87" font-weight="bold" stroke="#fff" stroke-width="1.1">(b<tspan dx="2.5">)</tspan></text>
<g id="feet2" fill="#fff"><rect x="1148.52" y="1422.48" width="12.17" height="9.22"/><rect x="1167.83" y="1422.48" width="11.41" height="9.22"/></g><!--/feet-->
</svg></body></html>
